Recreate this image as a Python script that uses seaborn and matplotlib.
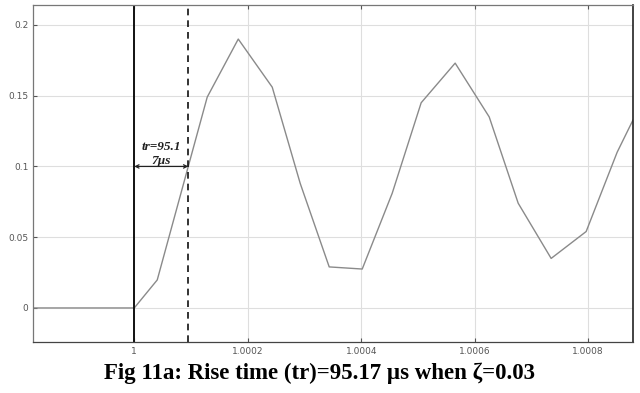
import matplotlib
matplotlib.use("Agg")
import matplotlib.pyplot as plt
import seaborn as sns
import pandas as pd

# step response samples (time in s, output)
time = [0.9998, 1.0, 1.0000405, 1.0001286, 1.0001833, 1.0002432, 1.0002925,
        1.0003436, 1.0004018, 1.0004546, 1.0005057, 1.0005656, 1.0006256,
        1.0006767, 1.0007348, 1.0007965, 1.0008511, 1.0008793]
response = [0.0, 0.0, 0.0198, 0.149, 0.190, 0.156, 0.088,
            0.029, 0.0275, 0.081, 0.145, 0.173, 0.135,
            0.074, 0.035, 0.054, 0.110, 0.133]

t_start = 1.0
t_rise = 1.00009517
level = 0.1
x_ticks = [1.0, 1.0002, 1.0004, 1.0006, 1.0008]
x_labels = ['1', '1.0002', '1.0004', '1.0006', '1.0008']
y_ticks = [0, 0.05, 0.1, 0.15, 0.2]
y_labels = ['0', '0.05', '0.1', '0.15', '0.2']
caption = 'Fig 11a: Rise time (tr)=95.17 \u00b5s when \u03b6=0.03'

df = pd.DataFrame({'t': time, 'y': response})

sns.set_style('whitegrid')
plt.rcParams['font.family'] = ['DejaVu Sans']

fig = plt.figure(figsize=(6.4, 3.93), dpi=100)
ax = fig.add_axes([0.052, 0.13, 0.937, 0.857])

sns.lineplot(data=df, x='t', y='y', ax=ax, color='#8a8a8a', linewidth=1.0)

ax.axvline(t_start, color='#111111', linewidth=1.4)
ax.axvline(t_rise, color='#111111', linewidth=1.2, linestyle=(0, (4, 3)))

# rise time arrow and label
ax.annotate('', xy=(t_rise, level), xytext=(t_start, level),
            arrowprops=dict(arrowstyle='<->', color='#222222', lw=0.9,
                            mutation_scale=6, shrinkA=0, shrinkB=0))
mid = (t_start + t_rise) / 2
ax.text(mid, 0.1135, 'tr=95.1', ha='center', va='center', fontsize=9.5,
        fontweight='bold', fontstyle='italic', family='Liberation Serif', color='#222222')
ax.text(mid, 0.1035, '7\u00b5s', ha='center', va='center', fontsize=9.5,
        fontweight='bold', fontstyle='italic', family='Liberation Serif', color='#222222')

ax.set_xlim(0.999822, 1.000879)
ax.set_ylim(-0.024, 0.214)
ax.set_xticks(x_ticks)
ax.set_xticklabels(x_labels)
ax.set_yticks(y_ticks)
ax.set_yticklabels(y_labels)
ax.set_xlabel('')
ax.set_ylabel('')
ax.grid(True, color='#dedede', linewidth=0.8)
ax.tick_params(axis='both', labelsize=6.5, colors='#555555', length=3,
               direction='in', top=True, bottom=True, left=True)
for side, sp in ax.spines.items():
    sp.set_visible(True)
    sp.set_color('#777777')
    sp.set_linewidth(0.9)
ax.spines['right'].set_color('#222222')
ax.spines['right'].set_linewidth(1.2)
ax.spines['bottom'].set_color('#444444')

fig.text(0.5, 0.05, caption, ha='center', va='center', fontsize=16.5,
         fontweight='bold', color='black', family=['Liberation Serif', 'DejaVu Serif'])

plt.savefig('out.png', dpi=100)
